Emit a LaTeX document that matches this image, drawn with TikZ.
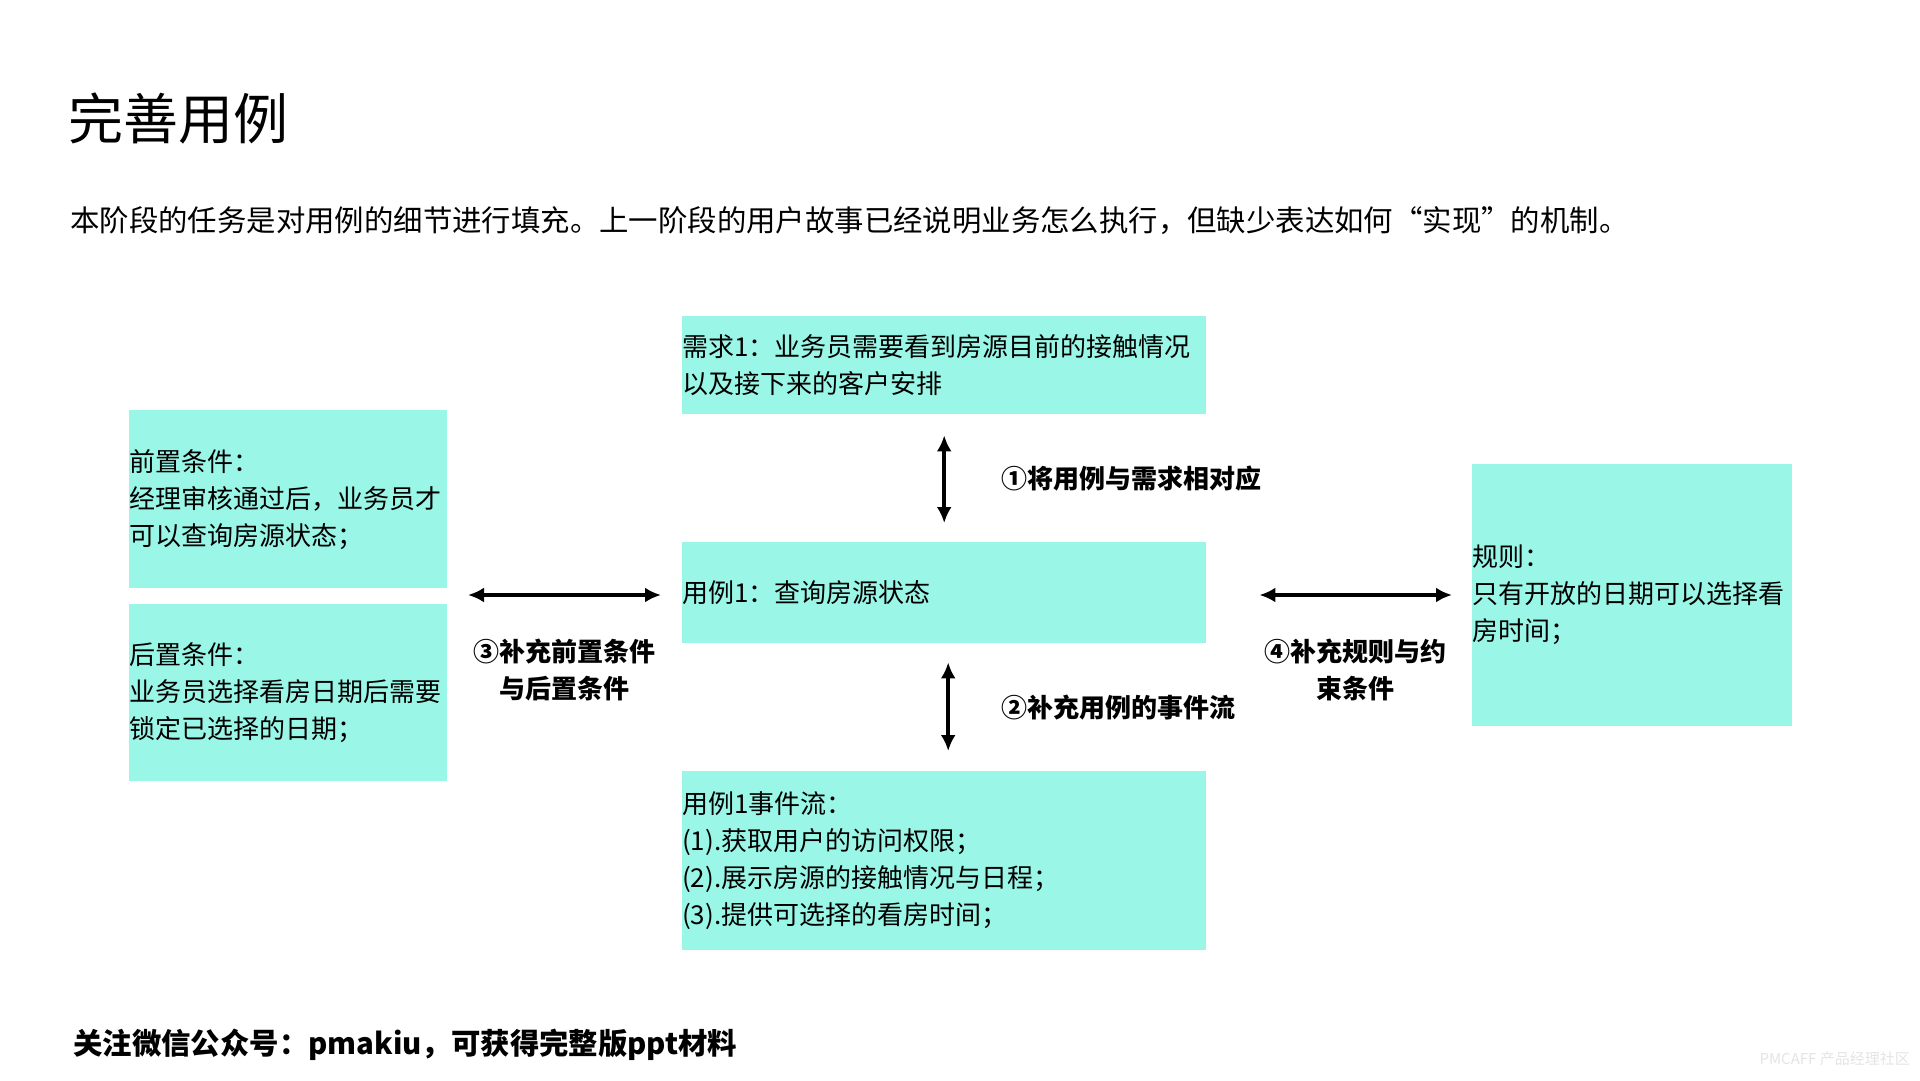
\documentclass[tikz,border=0pt]{standalone}
\usepackage{fontspec}
\setmainfont{Noto Sans CJK SC}
\usepackage{tikz}
\usetikzlibrary{positioning,arrows.meta}
\definecolor{boxcol}{HTML}{9AF6E6}
\definecolor{wmgray}{HTML}{E4E4E4}

\tikzset{
  box/.style={fill=boxcol, inner sep=0pt, align=left, anchor=north west,
    font=\fontsize{26}{37}\selectfont},
  tag/.style={inner sep=0pt, font=\fontsize{26}{37}\selectfont\bfseries},
  link/.style={<->, line width=3.5pt},
  >={Latex[length=16pt,width=15pt]}
}

\begin{document}
\begin{tikzpicture}[x=1pt,y=-1pt]
\useasboundingbox (0,0) rectangle (1920,1080);

\node[inner sep=0pt,anchor=west,font=\fontsize{55}{60}\selectfont] (t) at (68,118) {完善用例};
\node[inner sep=0pt,anchor=west,font=\fontsize{29.4}{34}\selectfont] (s) at (70,221)
  {本阶段的任务是对用例的细节进行填充。上一阶段的用户故事已经说明业务怎么执行，但缺少表达如何“实现”的机制。};

\node[box, text width=524, minimum height=98] (req) at (682,316)
  {需求1：业务员需要看到房源目前的接触情况\\以及接下来的客户安排};
\node[box, text width=318, minimum height=178] (pre) at (129,410)
  {前置条件：\\经理审核通过后，业务员才\\可以查询房源状态；};
\node[box, text width=318, minimum height=177] (post) at (129,604)
  {后置条件：\\业务员选择看房日期后需要\\锁定已选择的日期；};
\node[box, text width=524, minimum height=101] (uc) at (682,542)
  {用例1：查询房源状态};
\node[box, text width=524, minimum height=179] (flow) at (682,771)
  {用例1事件流：\\(1).获取用户的访问权限；\\(2).展示房源的接触情况与日程；\\(3).提供可选择的看房时间；};
\node[box, text width=320, minimum height=262] (rule) at (1472,464)
  {规则：\\只有开放的日期可以选择看\\房时间；};

\coordinate (pp) at (447,595);

\draw[link, shorten <=21pt, shorten >=19pt] (req.south) -- (uc.north)
  node[midway, right=56pt, tag] {①将用例与需求相对应};
\draw[link, shorten <=19pt, shorten >=20pt] ([xshift=4]uc.south) -- ([xshift=4]flow.north)
  node[midway, right=52pt, tag] {②补充用例的事件流};
\draw[link, shorten <=21pt, shorten >=21pt] (pp) -- (pp -| uc.west)
  node[midway, below=42pt, tag, align=center] {③补充前置条件\\与后置条件};
\draw[link, shorten <=53pt, shorten >=20pt] (uc.east |- pp) -- (pp -| rule.west)
  node[midway, below=42pt, xshift=16pt, tag, align=center] {④补充规则与约\\束条件};

\node[inner sep=0pt,anchor=west,font=\fontsize{29.4}{34}\selectfont\bfseries] (f) at (73,1045)
  {关注微信公众号：pmakiu，可获得完整版ppt材料};
\node[inner sep=0pt,anchor=east,text=wmgray,font=\fontsize{15}{18}\selectfont] (w) at (1910,1059)
  {PMCAFF 产品经理社区};
\end{tikzpicture}
\end{document}
